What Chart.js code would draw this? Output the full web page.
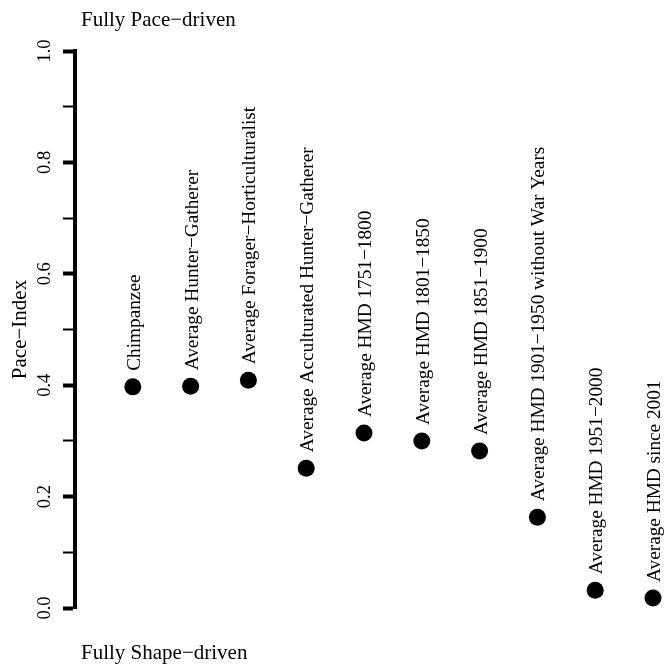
<!DOCTYPE html>
<html>
<head>
<meta charset="utf-8">
<script src="https://cdn.jsdelivr.net/npm/chart.js@4"></script>
<style>
  body { margin: 0; background: #fff; }
</style>
</head>
<body>
<canvas id="pace" width="666" height="668"></canvas>
<script>
// populations, left to right
const categories = [
  'Chimpanzee',
  'Average Hunter\u2212Gatherer',
  'Average Forager\u2212Horticulturalist',
  'Average Acculturated Hunter\u2212Gatherer',
  'Average HMD 1751\u22121800',
  'Average HMD 1801\u22121850',
  'Average HMD 1851\u22121900',
  'Average HMD 1901\u22121950 without War Years',
  'Average HMD 1951\u22122000',
  'Average HMD since 2001'
];
const paceIndex = [0.397, 0.398, 0.409, 0.251, 0.314, 0.300, 0.282, 0.163, 0.032, 0.018];
const tickLabels = ['0.0', '0.2', '0.4', '0.6', '0.8', '1.0'];

const points = paceIndex.map((v, i) => ({ x: i + 1, y: v }));

Chart.defaults.font.family = '"Liberation Serif", "Times New Roman", serif';
Chart.defaults.color = '#000';

const isMajor = v => Math.round(v * 10) % 2 === 0;

const annotate = {
  id: 'annotate',
  afterDatasetsDraw(chart) {
    const ctx = chart.ctx;
    const meta = chart.getDatasetMeta(0);
    ctx.save();
    ctx.fillStyle = '#000';
    ctx.font = '19.3px "Liberation Serif"';
    ctx.textAlign = 'left';
    ctx.textBaseline = 'middle';
    meta.data.forEach((pt, i) => {
      ctx.save();
      ctx.translate(pt.x + 2, pt.y - 16);
      ctx.rotate(-Math.PI / 2);
      ctx.fillText(categories[i], 0, 0);
      ctx.restore();
    });
    ctx.font = '21px "Liberation Serif"';
    ctx.textBaseline = 'alphabetic';
    ctx.fillText('Fully Pace\u2212driven', 81, 26);
    ctx.fillText('Fully Shape\u2212driven', 81, 659);
    ctx.restore();
  }
};

new Chart(document.getElementById('pace'), {
  type: 'scatter',
  data: {
    datasets: [{
      data: points,
      pointRadius: 8.5,
      pointHoverRadius: 8.5,
      backgroundColor: '#000',
      borderWidth: 0,
      clip: false
    }]
  },
  options: {
    responsive: false,
    animation: false,
    layout: { padding: { top: 51, bottom: 60, left: 0, right: 13 } },
    plugins: { legend: { display: false }, tooltip: { enabled: false } },
    scales: {
      x: { type: 'linear', display: false, min: 0, max: 10 },
      y: {
        min: 0,
        max: 1,
        afterFit(scale) { scale.width = 75; },
        border: { display: true, color: '#000', width: 4 },
        grid: {
          drawOnChartArea: false,
          drawTicks: true,
          tickLength: 12,
          tickColor: '#000',
          tickWidth: c => (c.tick && isMajor(c.tick.value)) ? 4 : 2
        },
        ticks: {
          stepSize: 0.1,
          autoSkip: false,
          minRotation: 90,
          maxRotation: 90,
          crossAlign: 'center',
          padding: 6,
          font: { size: 18.5 },
          callback: v => isMajor(v) ? tickLabels[Math.round(v * 5)] : ''
        },
        title: {
          display: true,
          text: 'Pace\u2212Index',
          font: { size: 21 },
          padding: { top: 8, bottom: 0 }
        }
      }
    }
  },
  plugins: [annotate]
});
</script>
</body>
</html>
